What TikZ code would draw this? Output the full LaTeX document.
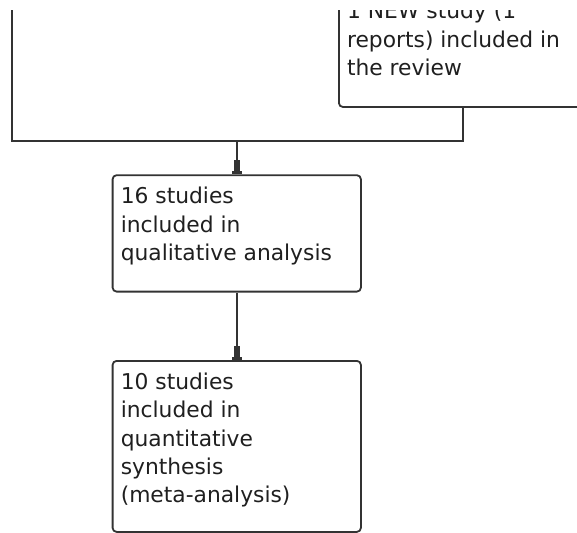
\documentclass[tikz,border=0pt]{standalone}
\usepackage{fontspec}
\setmainfont{DejaVu Sans}
\usetikzlibrary{arrows.meta}
\newcommand{\boxtxt}[2]{\parbox[t][#1][t]{232pt}{\raggedright\rule{0pt}{28.4pt}#2}}
\begin{document}
\begin{tikzpicture}[x=1pt,y=-1pt,
  lineclr/.style={draw=black!80, line width=1.8pt},
  flowbox/.style={lineclr, rectangle, rounded corners=4pt, anchor=north west,
    inner xsep=8pt, inner ysep=0pt, minimum width=248.3pt, align=left,
    font=\fontsize{21.8}{28.4}\selectfont, text=black!88},
  arr/.style={lineclr, -{Rectangle[length=11pt,width=6.5pt,line width=0pt] Rectangle[length=3.5pt,width=10pt,line width=0pt]}}
]
\useasboundingbox (0,0) rectangle (577,532);
\begin{scope}
\clip (0,11) rectangle (577,540);
\node[flowbox] (topbox) at (338,-10.3) {\boxtxt{116.4pt}{1 NEW study (1\\ reports) included in\\ the review}};
\node[flowbox] (qual) at (111.7,174.3) {\boxtxt{116.4pt}{16 studies\\ included in\\ qualitative analysis}};
\node[flowbox] (quant) at (111.7,360) {\boxtxt{171pt}{10 studies\\ included in\\ quantitative\\ synthesis\\ (meta-analysis)}};
\coordinate (L) at (11.7,0);
\coordinate (j) at (qual.north |- 0,140.7);
\draw[lineclr] (L) |- (j);
\draw[lineclr] (topbox.south) |- (j);
\draw[arr] (j) -- (qual.north);
\draw[arr] (qual.south) -- (quant.north);
\end{scope}
\end{tikzpicture}
\end{document}
